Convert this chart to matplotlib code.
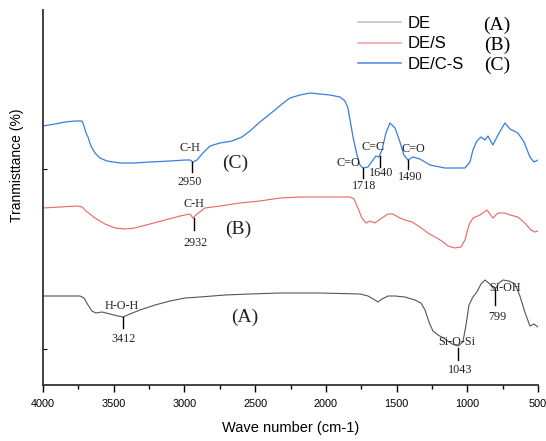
import matplotlib.pyplot as plt
import numpy as np

# FTIR spectra (transmittance in arbitrary offset units)
wn_A = [4000, 3880, 3738, 3710, 3682, 3654, 3625, 3583, 3526, 3470, 3434, 3385, 3314, 3208, 3102,
        2996, 2890, 2713, 2537, 2324, 2042, 1759, 1702, 1653, 1632, 1603, 1561, 1511, 1441, 1370,
        1328, 1299, 1271, 1243, 1207, 1158, 1108, 1066, 1031, 1009, 988, 960, 932, 903, 875,
        840, 805, 776, 748, 705, 663, 628, 593, 557, 529, 500]
tr_A = [89, 89, 89, 87, 80, 74, 72, 73, 71, 69, 68, 71, 75, 80, 84,
        87, 88, 90, 91, 92, 92, 91, 89, 85, 83, 86, 89, 89, 88, 85,
        82, 75, 63, 54, 50, 46, 41, 39, 43, 60, 80, 88, 93, 101, 105,
        101, 95, 102, 105, 104, 101, 89, 73, 59, 61, 58]

wn_B = [4000, 3880, 3753, 3724, 3696, 3632, 3562, 3491, 3420, 3350, 3244, 3137, 3031, 2961, 2940,
        2911, 2855, 2749, 2607, 2466, 2324, 2183, 1971, 1829, 1801, 1773, 1745, 1716, 1688, 1653,
        1603, 1561, 1525, 1490, 1441, 1391, 1335, 1278, 1229, 1179, 1137, 1087, 1045, 1016, 988,
        960, 910, 861, 819, 783, 734, 698, 642, 593, 550, 522, 500]
tr_B = [177, 178, 179, 178, 174, 167, 161, 157, 156, 157, 161, 165, 169, 171, 167,
        171, 177, 179, 182, 184, 187, 188, 188, 188, 186, 177, 167, 162, 164, 162,
        167, 171, 171, 168, 165, 163, 158, 152, 148, 144, 139, 137, 138, 145, 160,
        167, 170, 175, 167, 172, 172, 170, 168, 162, 155, 153, 154]

wn_C = [4000, 3915, 3844, 3774, 3724, 3710, 3696, 3682, 3661, 3632, 3597, 3548, 3456, 3350, 3244,
        3102, 2996, 2961, 2940, 2911, 2869, 2819, 2749, 2664, 2593, 2537, 2466, 2395, 2360, 2310,
        2254, 2183, 2112, 2042, 1971, 1900, 1865, 1844, 1829, 1808, 1780, 1759, 1738, 1702, 1667,
        1646, 1625, 1603, 1575, 1547, 1511, 1476, 1448, 1419, 1384, 1335, 1264, 1158, 1016, 981,
        960, 932, 903, 875, 854, 819, 783, 734, 698, 642, 599, 557, 529, 500]
tr_C = [259, 261, 263, 264, 264, 259, 252, 248, 239, 232, 227, 224, 222, 222, 223,
        224, 225, 225, 223, 225, 232, 239, 242, 244, 248, 254, 263, 271, 275, 281,
        287, 290, 292, 291, 290, 288, 284, 277, 265, 248, 230, 220, 217, 218, 225,
        229, 228, 235, 252, 262, 257, 243, 230, 225, 228, 226, 220, 217, 217, 223,
        235, 244, 248, 245, 249, 240, 250, 262, 256, 252, 243, 228, 223, 225]

# peak labels: (text, x, y), marker line (x, y0, y1), number (text, x, y)
peaks = [
    ("C-H", 2961, 237, 2947, 223, 213, "2950", 2961, 203),
    ("C=O", 1844, 222, 1738, 217, 207, "1718", 1731, 199),
    ("C=C", 1667, 238, 1617, 229, 218, "1640", 1610, 212),
    ("C=O", 1384, 236, 1419, 225, 216, "1490", 1405, 208),
    ("C-H", 2932, 181, 2932, 167, 155, "2932", 2925, 142),
    ("H-O-H", 3441, 79, 3434, 68, 57, "3412", 3434, 46),
    ("Si-O-Si", 1073, 43, 1066, 37, 25, "1043", 1052, 15),
    ("Si-OH", 734, 97, 805, 95, 80, "799", 790, 68),
]

fig = plt.figure(figsize=(5.46, 4.41), dpi=100)
ax = fig.add_axes([43 / 546, 56 / 441, 495 / 546, 375 / 441])

l1, = ax.plot(wn_A, tr_A, color='#555555', lw=0.8)
l2, = ax.plot(wn_B, tr_B, color='#f06262', lw=0.8)
l3, = ax.plot(wn_C, tr_C, color='#3a7ddb', lw=0.9)

serif = 'Liberation Serif'
for name, tx, ty, mx, my0, my1, num, nx, ny in peaks:
    ax.text(tx, ty, name, ha='center', va='center', fontsize=8.7, family=serif, color='#222222')
    ax.plot([mx, mx], [my0, my1], color='black', lw=1)
    ax.text(nx, ny, num, ha='center', va='center', fontsize=8.7, family=serif, color='#222222')

ax.text(2643, 222, "(C)", ha='center', va='center', fontsize=14, family=serif, color='#222222')
ax.text(2621, 156, "(B)", ha='center', va='center', fontsize=14, family=serif, color='#222222')
ax.text(2572, 68, "(A)", ha='center', va='center', fontsize=14, family=serif, color='#222222')

ax.set_xlim(4000, 500)
ax.set_ylim(0, 375)
ax.set_xticks(np.arange(4000, 499, -500))
ax.set_xticks(np.arange(3750, 500, -500), minor=True)
ax.tick_params(axis='x', which='major', length=5, width=1, labelsize=7.8, pad=5)
ax.tick_params(axis='x', which='minor', length=3, width=1)
ax.set_yticks([36, 216])
ax.set_yticklabels([])
ax.tick_params(axis='y', direction='in', length=3, width=0.8)
for lab in ax.get_xticklabels():
    lab.set_family('Liberation Sans')

for s in ['top', 'right']:
    ax.spines[s].set_visible(False)
for s in ['left', 'bottom']:
    ax.spines[s].set_linewidth(1.3)
    ax.spines[s].set_color('#333333')

# legend with faded handles
h1, = ax.plot([], [], color='#c4c4c4', lw=1.2)
h2, = ax.plot([], [], color='#f5a3a3', lw=1.2)
h3, = ax.plot([], [], color='#5a90e6', lw=1.2)
leg = ax.legend([h1, h2, h3], ["DE", "DE/S", "DE/C-S"], loc='upper left',
                bbox_to_anchor=(300 / 495, 1.024), frameon=False, handlelength=2.6,
                handletextpad=0.4, labelspacing=0.33,
                prop={'family': 'Liberation Sans', 'size': 12})

fig.text(497 / 546, 1 - 25 / 441, "(A)", ha='center', va='center', fontsize=14, family=serif)
fig.text(497 / 546, 1 - 45 / 441, "(B)", ha='center', va='center', fontsize=14, family=serif)
fig.text(497 / 546, 1 - 65 / 441, "(C)", ha='center', va='center', fontsize=14, family=serif)

fig.text(17 / 546, 1 - 165 / 441, "Tranmisttance (%)", rotation=90, ha='center', va='center',
         fontsize=10, family='Liberation Sans')
fig.text(291 / 546, 1 - 428 / 441, "Wave number (cm-1)", ha='center', va='center',
         fontsize=10.5, family='Liberation Sans')

plt.savefig("out.png", dpi=100)
